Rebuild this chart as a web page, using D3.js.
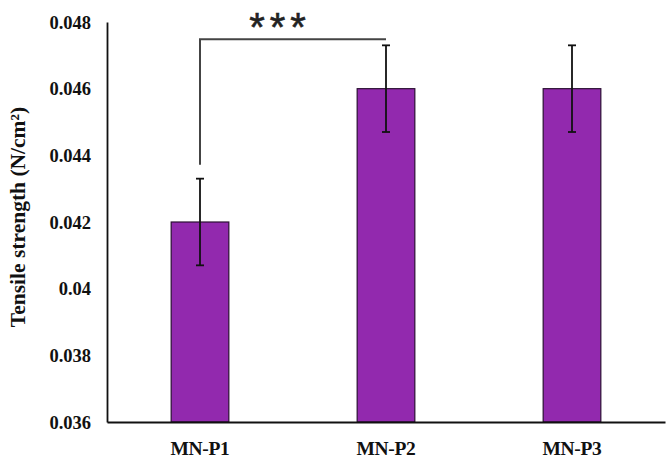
<!DOCTYPE html>
<html>
<head>
<meta charset="utf-8">
<script src="https://cdn.jsdelivr.net/npm/d3@7"></script>
<style>
  body { margin: 0; background: #fff; }
  svg { display: block; }
  .tick text, .lbl { font-family: "Liberation Serif", "Times New Roman", serif; font-weight: bold; fill: #111; }
</style>
</head>
<body>
<div id="chart"></div>
<script>
const categories = [`MN-P1`, `MN-P2`, `MN-P3`];
const means = [0.042, 0.046, 0.046];
const errors = [0.0013, 0.0013, 0.0013];
const yTicks = [0.036, 0.038, 0.04, 0.042, 0.044, 0.046, 0.048];
const yTickLabels = [`0.036`, `0.038`, `0.04`, `0.042`, `0.044`, `0.046`, `0.048`];
const significance = [{ from: 0, to: 1, label: `***` }];

const WIDTH = 669, HEIGHT = 461;
const margin = { top: 22, right: 4, bottom: 39, left: 107 };
const innerW = WIDTH - margin.left - margin.right;
const innerH = HEIGHT - margin.top - margin.bottom;

let svg = d3.select(`#chart`).append(`svg`)
  .attr(`width`, WIDTH)
  .attr(`height`, HEIGHT);

let g = svg.append(`g`)
  .attr(`transform`, `translate(${margin.left},${margin.top})`);

let x = d3.scaleBand()
  .domain(categories)
  .range([0, innerW])
  .paddingInner(0.69)
  .paddingOuter(0.345);

let y = d3.scaleLinear()
  .domain([0.036, 0.048])
  .range([innerH, 0]);

// bars
g.selectAll(`.bar`)
  .data(categories)
  .join(`rect`)
  .attr(`class`, `bar`)
  .attr(`x`, d => x(d))
  .attr(`y`, (d, i) => y(means[i]))
  .attr(`width`, x.bandwidth())
  .attr(`height`, (d, i) => innerH - y(means[i]))
  .attr(`fill`, `#9229ae`)
  .attr(`stroke`, `#2b0f33`)
  .attr(`stroke-width`, 1.2);

// error bars
let eb = g.selectAll(`.err`)
  .data(categories)
  .join(`g`)
  .attr(`class`, `err`)
  .attr(`stroke`, `#111`)
  .attr(`stroke-width`, 1.8);
eb.append(`line`)
  .attr(`x1`, d => x(d) + x.bandwidth() / 2)
  .attr(`x2`, d => x(d) + x.bandwidth() / 2)
  .attr(`y1`, (d, i) => y(means[i] + errors[i]))
  .attr(`y2`, (d, i) => y(means[i] - errors[i]));
[1, -1].forEach(s => {
  eb.append(`line`)
    .attr(`x1`, d => x(d) + x.bandwidth() / 2 - 4)
    .attr(`x2`, d => x(d) + x.bandwidth() / 2 + 4)
    .attr(`y1`, (d, i) => y(means[i] + s * errors[i]))
    .attr(`y2`, (d, i) => y(means[i] + s * errors[i]));
});

// axes
let yAxis = g.append(`g`)
  .call(d3.axisLeft(y).tickValues(yTicks).tickFormat((d, i) => yTickLabels[i]).tickSize(0).tickPadding(16));
yAxis.select(`.domain`).attr(`stroke`, `#111`).attr(`stroke-width`, 1.8);
yAxis.selectAll(`.tick text`).attr(`font-size`, 18.5).attr(`dy`, `0.33em`);

let xAxis = g.append(`g`)
  .attr(`transform`, `translate(0,${innerH})`)
  .call(d3.axisBottom(x).tickSize(0).tickPadding(19));
xAxis.select(`.domain`).attr(`stroke`, `#111`).attr(`stroke-width`, 1.8);
xAxis.selectAll(`.tick text`).attr(`font-size`, 19.5).attr(`letter-spacing`, `-0.3px`);

// y axis title
svg.append(`text`)
  .attr(`class`, `lbl`)
  .attr(`transform`, `translate(25,${margin.top + innerH / 2 - 5}) rotate(-90)`)
  .attr(`text-anchor`, `middle`)
  .attr(`font-size`, 21.5)
  .text(`Tensile strength  (N/cm²)`);

// significance bracket
significance.forEach(s => {
  let x1 = x(categories[s.from]) + x.bandwidth() / 2;
  let x2 = x(categories[s.to]) + x.bandwidth() / 2;
  let top = y(means[s.to] + errors[s.to]) - 6;
  let bottom = y(means[s.from] + errors[s.from]) - 14;
  g.append(`path`)
    .attr(`d`, `M${x1},${bottom}V${top}H${x2}`)
    .attr(`fill`, `none`)
    .attr(`stroke`, `#444`)
    .attr(`stroke-width`, 2);
  g.append(`text`)
    .attr(`x`, (x1 + x2) / 2 - 13)
    .attr(`y`, top + 2)
    .attr(`text-anchor`, `middle`)
    .attr(`font-family`, `"Liberation Sans", Arial, sans-serif`)
    .attr(`font-size`, 40)
    .attr(`letter-spacing`, `5px`)
    .attr(`fill`, `#222`)
    .attr(`stroke`, `#222`)
    .attr(`stroke-width`, 0.6)
    .text(s.label);
});
</script>
</body>
</html>
